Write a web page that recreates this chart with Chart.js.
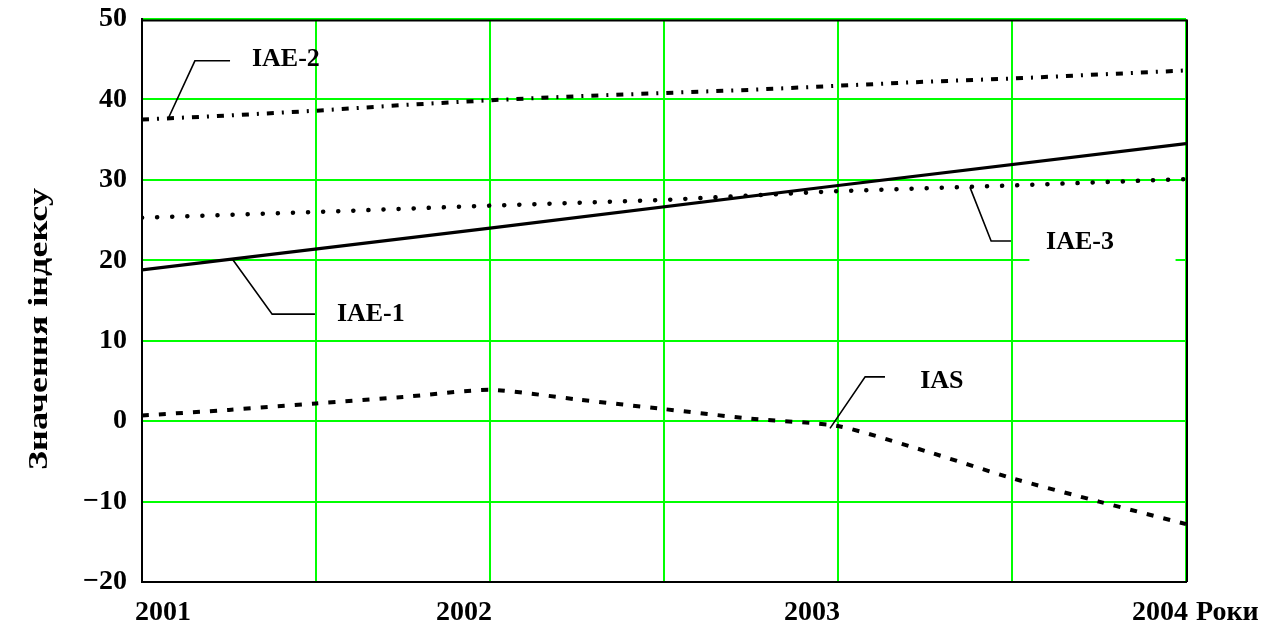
<!DOCTYPE html>
<html><head><meta charset="utf-8">
<script src="https://cdn.jsdelivr.net/npm/chart.js@4/dist/chart.umd.min.js"></script>
<style>html,body{margin:0;padding:0;background:#fff}#wrap{width:1286px;height:633px;position:relative}</style>
</head><body><div id="wrap"><canvas id="c" width="1286" height="633"></canvas></div>
<script>
// ---- data ----
const quarterYears = [2001, 2001.25, 2001.5, 2001.75, 2002, 2002.25, 2002.5, 2002.75, 2003, 2003.25, 2003.5, 2003.75, 2004];
const halfYears = [2001, 2001.5, 2002, 2002.5, 2003, 2003.5, 2004];
const wholeYears = [2001, 2002, 2003, 2004];
const iae1Values = [18.8, 24.0, 29.3, 34.5];
const iae2Values = [37.5, 38.0, 38.6, 39.3, 39.9, 40.4, 40.8, 41.2, 41.7, 42.2, 42.6, 43.1, 43.6];
const iae3Values = [25.3, 26.0, 26.8, 27.5, 28.6, 29.3, 30.1];
const iasValues = [0.7, 1.4, 2.2, 3.0, 3.9, 2.7, 1.5, 0.3, -0.6, -3.7, -7.1, -10.0, -12.8];
const xTickLabels = ['2001', '2002', '2003', '2004'];
const xAxisUnit = 'Роки';
const yAxisTitle = 'Значення індексу';
const seriesNames = ['IAE-1', 'IAE-2', 'IAE-3', 'IAS'];

// ---- annotation leaders (data coordinates) ----
const leaders = [
  { name: 'IAE-2', pts: [[2001.075, 37.6], [2001.152, 44.8], [2001.253, 44.8]], label: [2001.316, 45.0] },
  { name: 'IAE-1', pts: [[2001.259, 20.2], [2001.374, 13.3], [2001.497, 13.3]], label: [2001.56, 13.3] },
  { name: 'IAE-3', pts: [[2003.379, 29.1], [2003.44, 22.4], [2003.497, 22.4]], label: [2003.598, 22.2], box: [2003.55, 24.5, 2003.97, 19.0] },
  { name: 'IAS', pts: [[2002.977, -0.9], [2003.078, 5.5], [2003.135, 5.5]], label: [2003.236, 4.9] }
];

const FONT = '"Liberation Serif", "Times New Roman", serif';
const toXY = (xs, ys) => xs.map((x, i) => ({ x: x, y: ys[i] }));

const decor = {
  id: 'decor',
  beforeDatasetsDraw(chart) {
    const { ctx, chartArea: a, scales: { x, y } } = chart;
    ctx.save();
    leaders.forEach(l => {
      if (l.box) {
        ctx.fillStyle = '#fff';
        const x0 = x.getPixelForValue(l.box[0]), y0 = y.getPixelForValue(l.box[1]);
        const x1 = x.getPixelForValue(l.box[2]), y1 = y.getPixelForValue(l.box[3]);
        ctx.fillRect(x0, y0, x1 - x0, y1 - y0);
      }
    });
    ctx.strokeStyle = '#000';
    ctx.lineWidth = 2;
    ctx.beginPath();
    ctx.moveTo(a.left, a.top + 1.5); ctx.lineTo(a.right + 1, a.top + 1.5);
    ctx.lineTo(a.right + 1, a.bottom);
    ctx.stroke();
    ctx.restore();
  },
  afterDatasetsDraw(chart) {
    const { ctx, chartArea: a, scales: { x, y } } = chart;
    ctx.save();
    ctx.strokeStyle = '#000';
    ctx.lineWidth = 1.6;
    ctx.lineCap = 'butt';
    ctx.setLineDash([]);
    leaders.forEach(l => {
      ctx.beginPath();
      l.pts.forEach((p, i) => {
        const px = x.getPixelForValue(p[0]), py = y.getPixelForValue(p[1]);
        if (i === 0) ctx.moveTo(px, py); else ctx.lineTo(px, py);
      });
      ctx.stroke();
      ctx.fillStyle = '#000';
      ctx.font = 'bold 26px ' + FONT;
      ctx.textAlign = 'left';
      ctx.textBaseline = 'middle';
      ctx.fillText(l.name, x.getPixelForValue(l.label[0]), y.getPixelForValue(l.label[1]));
    });
    ctx.font = 'bold 28px ' + FONT;
    ctx.textBaseline = 'middle';
    const ly = a.bottom + 31;
    xTickLabels.forEach((t, i) => {
      const px = x.getPixelForValue(wholeYears[i]);
      if (i === 0) { ctx.textAlign = 'left'; ctx.fillText(t, px - 7, ly); }
      else { ctx.textAlign = 'right'; ctx.fillText(t, px + 2, ly); }
    });
    const lastPx = x.getPixelForValue(wholeYears[wholeYears.length - 1]);
    ctx.textAlign = 'left';
    ctx.fillText(xAxisUnit, lastPx + 10, ly);
    ctx.font = 'bold 28px ' + FONT;
    const w = ctx.measureText(yAxisTitle).width;
    const target = 282;
    ctx.translate(40, 329);
    ctx.rotate(-Math.PI / 2);
    ctx.scale(target / w, 1);
    ctx.textAlign = 'center';
    ctx.textBaseline = 'middle';
    ctx.fillText(yAxisTitle, 0, 0);
    ctx.restore();
  }
};

new Chart(document.getElementById('c'), {
  type: 'line',
  data: {
    datasets: [
      { label: seriesNames[0], data: toXY(wholeYears, iae1Values), borderColor: '#000', borderWidth: 3.2, pointRadius: 0, tension: 0 },
      { label: seriesNames[1], data: toXY(quarterYears, iae2Values), borderColor: '#000', borderWidth: 4, borderDash: [7, 8, 2, 8], pointRadius: 0, tension: 0 },
      { label: seriesNames[2], data: toXY(halfYears, iae3Values), borderColor: '#000', borderWidth: 4.5, borderDash: [0.1, 15], borderCapStyle: 'round', pointRadius: 0, tension: 0 },
      { label: seriesNames[3], data: toXY(quarterYears, iasValues), borderColor: '#000', borderWidth: 4, borderDash: [7, 10], pointRadius: 0, tension: 0.2 }
    ]
  },
  options: {
    responsive: false,
    animation: false,
    layout: { padding: { left: 0, top: 19, right: 100, bottom: 0 } },
    plugins: { legend: { display: false }, tooltip: { enabled: false }, title: { display: false } },
    scales: {
      x: {
        type: 'linear', min: 2001, max: 2004,
        ticks: { stepSize: 0.5, display: false },
        grid: { color: '#00ff00', lineWidth: 2, drawTicks: false },
        border: { display: true, color: '#000', width: 2 },
        afterFit(s) { s.height = 51; s.paddingLeft = 0; s.paddingRight = 0; }
      },
      y: {
        min: -20, max: 50,
        ticks: {
          stepSize: 10, padding: 15, color: '#000',
          font: { family: FONT, size: 28, weight: 'bold' },
          callback: v => String(v).replace('-', '\u2212')
        },
        grid: { color: '#00ff00', lineWidth: 2, drawTicks: false },
        border: { display: true, color: '#000', width: 2 },
        afterFit(s) { s.width = 142; s.paddingTop = 0; s.paddingBottom = 0; }
      }
    }
  },
  plugins: [decor]
});
</script>
</body></html>
